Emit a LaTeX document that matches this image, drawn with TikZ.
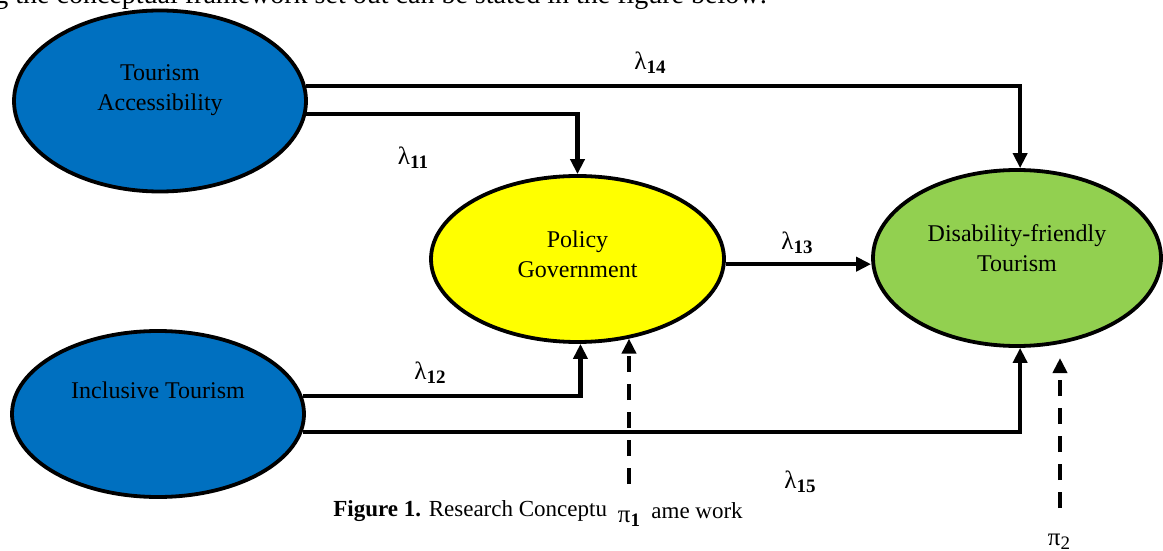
\documentclass[tikz,border=0pt]{standalone}
\usepackage{fontspec}
\setmainfont{Liberation Serif}
\usetikzlibrary{shapes.geometric,arrows.meta}

\definecolor{accessblue}{HTML}{0070C0}
\definecolor{policyyellow}{HTML}{FFFF00}
\definecolor{friendlygreen}{HTML}{92D050}

\newcommand{\coefsub}[1]{\raisebox{-0.35ex}{\fontsize{9.5}{11}\selectfont #1}}

\tikzset{
    construct/.style={ellipse, draw, line width=1.9pt, inner sep=0pt},
    name text/.style={align=center, font=\fontsize{12}{15}\selectfont},
    link/.style={line width=2.1pt, -{Triangle[length=7.5pt, width=7pt]}},
    error link/.style={link, dash pattern=on 8pt off 6pt},
    coef/.style={font=\fontsize{12.5}{14}\selectfont},
}

\begin{document}
\begin{tikzpicture}[x=0.5pt, y=-0.5pt]
    \useasboundingbox (0,0) rectangle (1163,551);
    \clip (0,0) rectangle (1163,551);

    \node [anchor=base west, inner sep=0pt, font=\fontsize{14}{17}\selectfont]
        (intro) at (-6,4)
        {g the conceptual framework set out can be stated in the figure below:};

    % constructs
    \node [construct, fill=accessblue, minimum width=146pt, minimum height=90.5pt]
        (ta) at (160,101) {};
    \node [construct, fill=accessblue, minimum width=146pt, minimum height=83pt]
        (it) at (158,414) {};
    \node [construct, fill=policyyellow, minimum width=146.5pt, minimum height=83pt]
        (pg) at (577.5,259) {};
    \node [construct, fill=friendlygreen, minimum width=144pt, minimum height=88pt]
        (df) at (1017,258) {};

    \node [name text] (ta text) at (160,90) {Tourism\\Accessibility};
    \node [name text] (it text) at (158,390) {Inclusive Tourism};
    \node [name text] (pg text) at (577.5,254) {Policy\\Government};
    \node [name text] (df text) at (1017,248) {Disability-friendly\\Tourism};

    % paths
    \draw [link]
        (ta.6) -| (df.88)
        ;

    \draw [link]
        (ta.-5) -| (pg.north)
        ;

    \draw [link]
        (pg.-2) -- (pg.-2 -| df.west)
        ;

    \draw [link]
        (it.7) -| (pg.272)
        ;

    \draw [link]
        (it.-7) -| (df.272)
        ;

    \node [coef] (l14) at (650,63) {λ\coefsub{\textbf{14}}};
    \node [coef] (l11) at (413,158) {λ\coefsub{\textbf{11}}};
    \node [coef] (l13) at (797,243) {λ\coefsub{\textbf{13}}};
    \node [coef] (l12) at (430,373) {λ\coefsub{\textbf{12}}};
    \node [coef] (l15) at (800,482) {λ\coefsub{\textbf{15}}};

    % errors
    \coordinate (pi1 tail) at (629,484);
    \coordinate (pi2 tail) at (1060,508);
    \coordinate (pi2 head) at (1060,358);

    \draw [error link]
        (pi1 tail) -- (pi1 tail |- pg.-57)
        ;

    \draw [error link]
        (pi2 tail) -- (pi2 head)
        ;

    \node [coef] (pi1) at (629,519) {π\coefsub{\textbf{1}}};
    \node [coef] (pi2) at (1059,542) {π\coefsub{2}};

    % caption
    \node [anchor=west, inner sep=0pt, font=\fontsize{11.5}{14}\selectfont]
        (cap left) at (333,511) {\textbf{Figure 1.} Research Conceptu};
    \node [anchor=west, inner sep=0pt, font=\fontsize{11.5}{14}\selectfont]
        (cap right) at (651,511) {ame work};
\end{tikzpicture}
\end{document}
